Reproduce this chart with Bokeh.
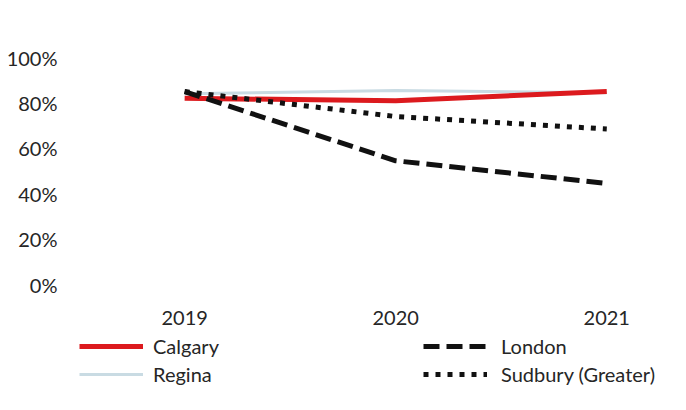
from bokeh.plotting import figure
from bokeh.layouts import column
from bokeh.models import Legend, LegendItem, FixedTicker, PrintfTickFormatter, Range1d
from bokeh.embed import file_html
from bokeh.resources import INLINE

years = [2019, 2020, 2021]
calgary = [82, 81, 85]
regina = [84, 85.5, 84.5]
london = [85, 54.5, 44.5]
sudbury = [85, 74, 68.5]
y_ticks = [0, 20, 40, 60, 80, 100]

FONT = "Lato"
TXT = "#262626"

styles = {
    "Calgary": dict(line_color="#dc1a1e", line_width=5),
    "Regina": dict(line_color="#c9dbe3", line_width=3),
    "London": dict(line_color="#111111", line_width=5, line_dash="16 7"),
    "Sudbury (Greater)": dict(line_color="#111111", line_width=5, line_dash="5 7"),
}

p = figure(width=670, height=330, output_backend="svg", toolbar_location=None,
           x_range=Range1d(2018.445, 2021.302), y_range=Range1d(-4.405, 104.85),
           min_border_left=67, min_border_right=0, min_border_top=46, min_border_bottom=36)
p.outline_line_color = None
p.xgrid.visible = False
p.ygrid.visible = False

for ax in (p.xaxis[0], p.yaxis[0]):
    ax.axis_line_color = None
    ax.major_tick_line_color = None
    ax.minor_tick_line_color = None
    ax.major_label_text_font = FONT
    ax.major_label_text_font_size = "20px"
    ax.major_label_text_color = TXT

p.xaxis.ticker = FixedTicker(ticks=years)
p.xaxis.major_label_standoff = 10
p.yaxis.ticker = FixedTicker(ticks=y_ticks)
p.yaxis.formatter = PrintfTickFormatter(format="%d%%")
p.yaxis.major_label_standoff = 4

p.line(years, regina, **styles["Regina"])
p.line(years, calgary, **styles["Calgary"])
p.line(years, london, **styles["London"])
p.line(years, sudbury, **styles["Sudbury (Greater)"])

# legend panel (renderers lie outside the visible range; only their legend samples show)
q = figure(width=670, height=64, output_backend="svg", toolbar_location=None,
           x_range=Range1d(0, 1), y_range=Range1d(0, 1),
           x_axis_location=None, y_axis_location=None,
           min_border_left=0, min_border_right=0, min_border_top=0, min_border_bottom=0)
q.outline_line_color = None
q.xgrid.visible = False
q.ygrid.visible = False
dummy = {name: q.line([-5, -4], [-5, -4], **st) for name, st in styles.items()}

common = dict(border_line_color=None, background_fill_alpha=0, padding=0, margin=0,
              spacing=0, glyph_width=64, glyph_height=28,
              label_text_font=FONT, label_text_font_size="20px", label_text_color=TXT)

leg1 = Legend(items=[LegendItem(label="Calgary", renderers=[dummy["Calgary"]]),
                     LegendItem(label="Regina", renderers=[dummy["Regina"]])],
              location=(12, 6), label_standoff=10, **common)
leg2 = Legend(items=[LegendItem(label="London", renderers=[dummy["London"]]),
                     LegendItem(label="Sudbury (Greater)", renderers=[dummy["Sudbury (Greater)"]])],
              location=(356, 6), label_standoff=14, **common)
q.add_layout(leg1, "center")
q.add_layout(leg2, "center")

layout = column(p, q, spacing=0)
open("out.html", "w").write(file_html(layout, INLINE))
